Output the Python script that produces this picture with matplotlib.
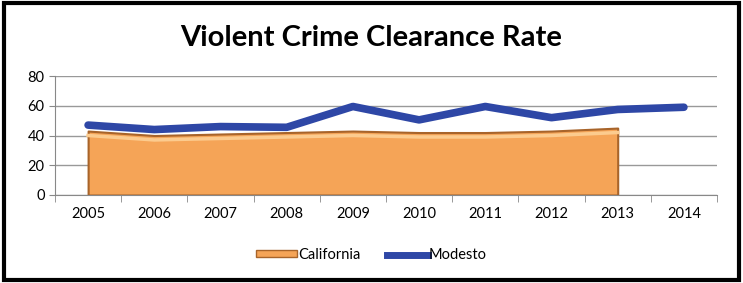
import numpy as np
import matplotlib.pyplot as plt
from matplotlib.patches import Rectangle

plt.rcParams['font.family'] = ['Lato', 'DejaVu Sans']

years = ['2005', '2006', '2007', '2008', '2009', '2010', '2011', '2012', '2013', '2014']
california = [43, 40, 41, 42, 43, 42, 42, 43, 45]
modesto = [47, 44, 46, 45.5, 59.5, 50.5, 59.5, 52, 57.5, 59]

fig = plt.figure(figsize=(7.43, 2.83), dpi=100)
ax = fig.add_axes([55/743, 1-195/283, 662/743, 119/283])

x = np.arange(len(years))
xc = x[:len(california)]
# California area with a darker edge and light bevel at the top
ax.fill_between(xc, 0, california, facecolor='#F5A457', edgecolor='#A8642A', linewidth=1.5, zorder=2)
ax.plot(xc, np.array(california) - 3, color='#FCCB8E', linewidth=2.5, zorder=3)
# Modesto line
ax.plot(x, modesto, color='#2E47A6', linewidth=5.5, solid_capstyle='round', solid_joinstyle='round', zorder=4)

ax.set_xlim(-0.5, len(years) - 0.5)
ax.set_ylim(0, 80)
ax.set_yticks([0, 20, 40, 60, 80])
ax.set_xticks(x)
ax.set_xticklabels(years)
ax.set_xticks(np.arange(-0.5, len(years)), minor=True)
ax.tick_params(axis='x', which='major', length=0, pad=9, labelsize=10.5)
ax.tick_params(axis='x', which='minor', length=5, color='#888888')
ax.tick_params(axis='y', length=4, color='#888888', labelsize=10.5)
ax.yaxis.grid(True, color='#999999', linewidth=1)
ax.set_axisbelow(True)
for s in ['top', 'right']:
    ax.spines[s].set_visible(False)
ax.spines['left'].set_color('#888888')
ax.spines['bottom'].set_color('#888888')

fig.text(0.5, 1-38/283, 'Violent Crime Clearance Rate', ha='center', va='center', fontsize=21, fontweight='bold')

h1 = Rectangle((0, 0), 1, 1, facecolor='#F5A457', edgecolor='#A8642A')
h2 = plt.Line2D([], [], color='#2E47A6', linewidth=5)
fig.legend([h1, h2], ['California', 'Modesto'], loc='center', bbox_to_anchor=(0.5, 1-255/283), ncol=2,
           frameon=False, fontsize=10.5, handlelength=2.8, handleheight=0.4, handletextpad=0.1, columnspacing=1.8)

fig.patches.append(Rectangle((0.005, 0.01), 0.99, 0.98, transform=fig.transFigure, fill=False, edgecolor='black', linewidth=3))

plt.savefig('out.png', dpi=100)
